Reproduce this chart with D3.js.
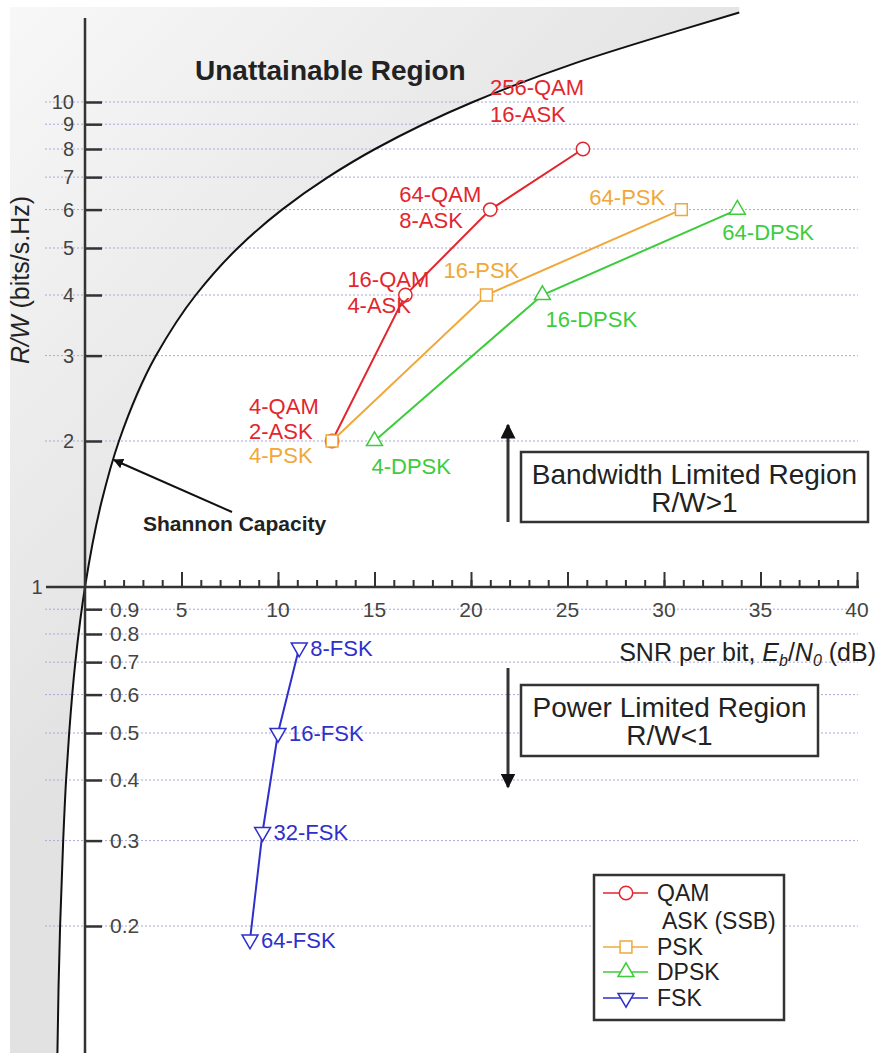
<!DOCTYPE html>
<html>
<head>
<meta charset="utf-8">
<script src="https://cdn.jsdelivr.net/npm/d3@7"></script>
<style>
  body { margin: 0; background: #fff; }
  text { font-family: "Liberation Sans", Arial, sans-serif; }
</style>
</head>
<body>
<div id="chart"></div>
<script>
// Data
const snrMajorTicks = [5, 10, 15, 20, 25, 30, 35, 40];
const rateTicksUpper = [2, 3, 4, 5, 6, 7, 8, 9, 10];
const rateTicksLower = [0.2, 0.3, 0.4, 0.5, 0.6, 0.7, 0.8, 0.9];

// Shannon capacity curve (R/W, Eb/N0 dB)
const shannonRate = [0.109, 0.15, 0.2, 0.3, 0.4, 0.5, 0.7, 1, 1.5, 2, 3, 4, 5, 6, 7, 8, 10, 12, 14, 15.3];
const shannonSnr = [-1.43, -1.37, -1.29, -1.13, -0.98, -0.82, -0.50, 0, 0.86, 1.76, 3.68, 5.74, 7.92, 10.21, 12.59, 15.03, 20.10, 25.33, 30.68, 33.9];

const qamSnr = [12.8, 16.6, 21.0, 25.8];
const qamRate = [2, 4, 6, 8];
const qamLabels = [["4-QAM", "2-ASK"], ["16-QAM", "4-ASK"], ["64-QAM", "8-ASK"], ["256-QAM", "16-ASK"]];

const pskSnr = [12.8, 20.8, 30.9];
const pskRate = [2, 4, 6];
const pskLabels = ["4-PSK", "16-PSK", "64-PSK"];

const dpskSnr = [15.0, 23.7, 33.8];
const dpskRate = [2, 4, 6];
const dpskLabels = ["4-DPSK", "16-DPSK", "64-DPSK"];

const fskSnr = [11.1, 10.0, 9.2, 8.55];
const fskRate = [0.75, 0.5, 0.3125, 0.1875];
const fskLabels = ["8-FSK", "16-FSK", "32-FSK", "64-FSK"];

const legendNames = ["QAM", "PSK", "DPSK", "FSK"];

const W = 878, H = 1053;
const svg = d3.select("#chart").append("svg")
    .attr("width", W)
    .attr("height", H);

const x = d3.scaleLinear().domain([0, 40]).range([85, 857]);
const y = d3.scaleLog().domain([1, 10]).range([587, 102]);

const colors = { QAM: "#e3262e", PSK: "#f0a83a", DPSK: "#3ccc3c", FSK: "#2f2fcc" };
const ink = "#333";

const defs = svg.append("defs");
const grad = defs.append("linearGradient")
    .attr("id", "unattain")
    .attr("gradientUnits", "userSpaceOnUse")
    .attr("x1", 0).attr("y1", 0).attr("x2", 420).attr("y2", 420);
grad.append("stop").attr("offset", 0).attr("stop-color", "#f8f8f8");
grad.append("stop").attr("offset", 1).attr("stop-color", "#e2e2e2");

defs.append("marker")
    .attr("id", "arrow")
    .attr("viewBox", "0 0 10 10")
    .attr("refX", 9).attr("refY", 5)
    .attr("markerWidth", 5).attr("markerHeight", 5)
    .attr("orient", "auto-start-reverse")
    .append("path")
    .attr("d", "M0,0 L10,5 L0,10 z")
    .attr("fill", "#111");

// Unattainable region (left of the Shannon curve)
const shannon = shannonRate.map((r, i) => [x(shannonSnr[i]), y(r)]);
const curveEnd = shannon[shannon.length - 1];
const regionPts = [[10, H], [10, 7], [curveEnd[0], 7]].concat(shannon.slice().reverse());
svg.append("path")
    .attr("d", d3.line().curve(d3.curveLinear)(regionPts) + "Z")
    .attr("fill", "url(#unattain)");

// Gridlines
const gridVals = rateTicksLower.concat(rateTicksUpper);
svg.append("g").selectAll("line")
    .data(gridVals)
    .enter().append("line")
    .attr("x1", 45).attr("x2", 858)
    .attr("y1", d => y(d)).attr("y2", d => y(d))
    .attr("stroke", "#a9a9dc")
    .attr("stroke-width", 1)
    .attr("stroke-dasharray", "2,2");

// Shannon curve
svg.append("path")
    .attr("d", d3.line().curve(d3.curveMonotoneY)(shannon))
    .attr("fill", "none")
    .attr("stroke", "#111")
    .attr("stroke-width", 2);

// Y axis
svg.append("line")
    .attr("x1", x(0)).attr("x2", x(0))
    .attr("y1", 18).attr("y2", H)
    .attr("stroke", ink).attr("stroke-width", 2.5);

const yAxis = svg.append("g")
    .attr("transform", `translate(${x(0)},0)`)
    .call(d3.axisRight(y).tickValues(gridVals).tickSize(17).tickFormat(""));
yAxis.select(".domain").remove();
yAxis.selectAll("line").attr("stroke", ink).attr("stroke-width", 2.5);

svg.append("g").selectAll("text")
    .data(rateTicksUpper)
    .enter().append("text")
    .attr("x", 74).attr("y", d => y(d))
    .attr("dy", "0.35em")
    .attr("text-anchor", "end")
    .attr("font-size", 20)
    .attr("fill", "#444")
    .text(d => d);

svg.append("g").selectAll("text")
    .data(rateTicksLower)
    .enter().append("text")
    .attr("x", 110).attr("y", d => y(d))
    .attr("dy", "0.35em")
    .attr("font-size", 21)
    .attr("fill", "#444")
    .text(d => d);

// X axis at R/W = 1
svg.append("line")
    .attr("x1", 46).attr("x2", 859)
    .attr("y1", y(1)).attr("y2", y(1))
    .attr("stroke", ink).attr("stroke-width", 2.5);
svg.append("text")
    .attr("x", 37).attr("y", y(1))
    .attr("dy", "0.35em")
    .attr("text-anchor", "middle")
    .attr("font-size", 20)
    .attr("fill", "#444")
    .text("1");

const xMinor = svg.append("g")
    .attr("transform", `translate(0,${y(1)})`)
    .call(d3.axisTop(x).tickValues(d3.range(1, 41)).tickSize(7).tickFormat(""));
xMinor.select(".domain").remove();
xMinor.selectAll("line").attr("stroke", ink).attr("stroke-width", 2);

const xMajor = svg.append("g")
    .attr("transform", `translate(0,${y(1)})`)
    .call(d3.axisTop(x).tickValues(snrMajorTicks).tickSize(15).tickFormat(""));
xMajor.select(".domain").remove();
xMajor.selectAll("line").attr("stroke", ink).attr("stroke-width", 2);

svg.append("g").selectAll("text")
    .data(snrMajorTicks)
    .enter().append("text")
    .attr("x", d => x(d)).attr("y", y(0.9))
    .attr("dy", "0.35em")
    .attr("text-anchor", "middle")
    .attr("font-size", 21)
    .attr("fill", "#444")
    .text(d => d);

// Axis titles
const xTitle = svg.append("text")
    .attr("x", 876).attr("y", 661)
    .attr("text-anchor", "end")
    .attr("font-size", 25)
    .attr("fill", "#222");
xTitle.append("tspan").text("SNR per bit, ");
xTitle.append("tspan").attr("font-style", "italic").text("E");
xTitle.append("tspan").attr("font-style", "italic").attr("font-size", 16).attr("dy", 5).text("b");
xTitle.append("tspan").attr("dy", -5).text("/");
xTitle.append("tspan").attr("font-style", "italic").text("N");
xTitle.append("tspan").attr("font-style", "italic").attr("font-size", 16).attr("dy", 5).text("0");
xTitle.append("tspan").attr("dy", -5).text(" (dB)");

const yTitle = svg.append("text")
    .attr("transform", "translate(29,280) rotate(-90)")
    .attr("text-anchor", "middle")
    .attr("font-size", 25)
    .attr("fill", "#222");
yTitle.append("tspan").attr("font-style", "italic").text("R/W");
yTitle.append("tspan").text(" (bits/s.Hz)");

// Series
const sym = {
    QAM: d3.symbol().type(d3.symbolCircle).size(140),
    PSK: d3.symbol().type(d3.symbolSquare).size(140),
    DPSK: d3.symbol().type(d3.symbolTriangle).size(110),
    FSK: d3.symbol().type(d3.symbolTriangle).size(110)
};
const series = [
    { name: "QAM", snr: qamSnr, rate: qamRate },
    { name: "PSK", snr: pskSnr, rate: pskRate },
    { name: "DPSK", snr: dpskSnr, rate: dpskRate },
    { name: "FSK", snr: fskSnr, rate: fskRate }
];
const line = d3.line().x(d => x(d[0])).y(d => y(d[1]));

series.forEach(s => {
    const pts = s.snr.map((v, i) => [v, s.rate[i]]);
    svg.append("path")
        .attr("d", line(pts))
        .attr("fill", "none")
        .attr("stroke", colors[s.name])
        .attr("stroke-width", 2);
    svg.append("g").selectAll("path")
        .data(pts)
        .enter().append("path")
        .attr("d", sym[s.name]())
        .attr("transform", d => `translate(${x(d[0])},${y(d[1])})` + (s.name === "FSK" ? " rotate(180)" : ""))
        .attr("fill", "#fff")
        .attr("stroke", colors[s.name])
        .attr("stroke-width", 1.5);
});

// Point labels: [dx, dy] placement next to each point
function addLabel(txt, px, py, dx, dy, color) {
    svg.append("text")
        .attr("x", px + dx).attr("y", py + dy)
        .attr("font-size", 22)
        .attr("fill", color)
        .text(txt);
}
const qamPlace = [[[-83, -27], [-83, -2]], [[-58, -8], [-58, 18]], [[-91, -8], [-91, 18]], [[-93, -54], [-93, -27]]];
qamLabels.forEach((pair, i) => {
    pair.forEach((t, j) => addLabel(t, x(qamSnr[i]), y(qamRate[i]), qamPlace[i][j][0], qamPlace[i][j][1], colors.QAM));
});
const pskPlace = [[-83, 22], [-43, -17], [-92, -5]];
pskLabels.forEach((t, i) => addLabel(t, x(pskSnr[i]), y(pskRate[i]), pskPlace[i][0], pskPlace[i][1], colors.PSK));
const dpskPlace = [[-3, 33], [3, 32], [-15, 30]];
dpskLabels.forEach((t, i) => addLabel(t, x(dpskSnr[i]), y(dpskRate[i]), dpskPlace[i][0], dpskPlace[i][1], colors.DPSK));
fskLabels.forEach((t, i) => addLabel(t, x(fskSnr[i]), y(fskRate[i]), 11, 8, colors.FSK));

// Region annotations
svg.append("text")
    .attr("x", 195).attr("y", 80)
    .attr("font-size", 28)
    .attr("font-weight", "bold")
    .attr("fill", "#222")
    .text("Unattainable Region");

svg.append("text")
    .attr("x", 143).attr("y", 531)
    .attr("font-size", 21)
    .attr("font-weight", "bold")
    .attr("fill", "#222")
    .text("Shannon Capacity");
svg.append("line")
    .attr("x1", 232).attr("y1", 512)
    .attr("x2", 114).attr("y2", 460)
    .attr("stroke", "#111").attr("stroke-width", 2)
    .attr("marker-end", "url(#arrow)");

function regionBox(bx, by, bw, bh, lines) {
    svg.append("rect")
        .attr("x", bx).attr("y", by)
        .attr("width", bw).attr("height", bh)
        .attr("fill", "#fff")
        .attr("stroke", ink).attr("stroke-width", 2.5);
    lines.forEach((t, i) => {
        svg.append("text")
            .attr("x", bx + bw / 2).attr("y", by + 32 + i * 28)
            .attr("text-anchor", "middle")
            .attr("font-size", 28)
            .attr("fill", "#222")
            .text(t);
    });
}
regionBox(521, 452, 347, 70, ["Bandwidth Limited Region", "R/W>1"]);
regionBox(521, 685, 297, 71, ["Power Limited Region", "R/W<1"]);

svg.append("line")
    .attr("x1", 508).attr("y1", 522).attr("x2", 508).attr("y2", 425)
    .attr("stroke", "#333").attr("stroke-width", 3)
    .attr("marker-end", "url(#arrow)");
svg.append("line")
    .attr("x1", 508).attr("y1", 668).attr("x2", 508).attr("y2", 787)
    .attr("stroke", "#333").attr("stroke-width", 3)
    .attr("marker-end", "url(#arrow)");

// Legend
const lg = svg.append("g").attr("transform", "translate(594,875)");
lg.append("rect")
    .attr("width", 190).attr("height", 145)
    .attr("fill", "#fff")
    .attr("stroke", ink).attr("stroke-width", 2.5);
const legendRows = [18, 72, 97, 123];
legendNames.forEach((n, i) => {
    const row = lg.append("g").attr("transform", `translate(0,${legendRows[i]})`);
    row.append("line")
        .attr("x1", 9).attr("x2", 54)
        .attr("stroke", colors[n]).attr("stroke-width", 1.5);
    row.append("path")
        .attr("d", sym[n]())
        .attr("transform", "translate(32,0)" + (n === "FSK" ? " rotate(180)" : ""))
        .attr("fill", "#fff")
        .attr("stroke", colors[n]).attr("stroke-width", 1.5);
    row.append("text")
        .attr("x", 63).attr("dy", "0.35em")
        .attr("font-size", 23)
        .attr("fill", "#222")
        .text(n);
});
lg.append("text")
    .attr("x", 68).attr("y", 46).attr("dy", "0.35em")
    .attr("font-size", 23)
    .attr("fill", "#222")
    .text("ASK (SSB)");
</script>
</body>
</html>
